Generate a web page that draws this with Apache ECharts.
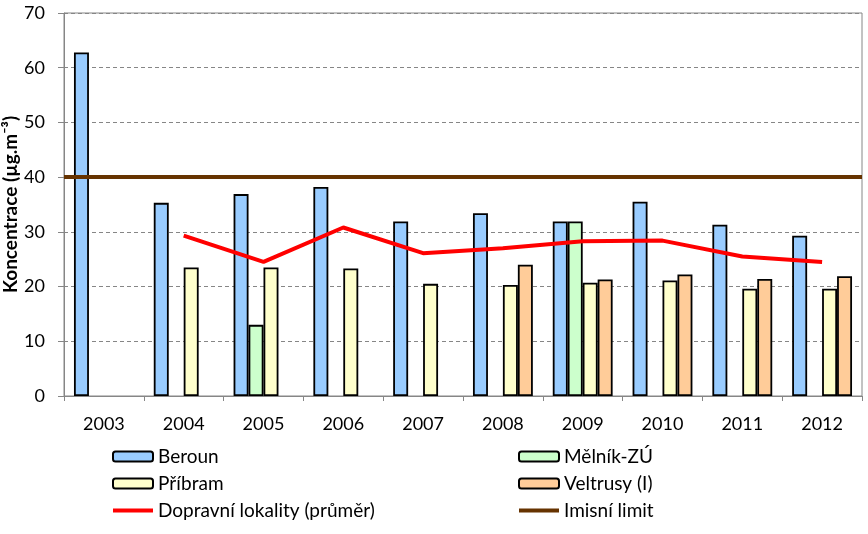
<!DOCTYPE html>
<html><head><meta charset="utf-8">
<script src="https://cdn.jsdelivr.net/npm/echarts@6/dist/echarts.min.js"></script>
<style>html,body{margin:0;padding:0;background:#fff}#c{width:868px;height:534px}</style>
</head><body><div id="c"></div>
<script>
const years = ['2003','2004','2005','2006','2007','2008','2009','2010','2011','2012'];
const beroun   = [62.8, 35.3, 36.9, 38.2, 31.9, 33.4, 31.9, 35.5, 31.3, 29.3];
const melnik   = [null, null, 13.0, null, null, null, 31.9, null, null, null];
const pribram  = [null, 23.5, 23.5, 23.3, 20.5, 20.3, 20.7, 21.1, 19.6, 19.6];
const veltrusy = [null, null, null, null, null, 24.0, 21.3, 22.2, 21.4, 21.9];
const doprava  = [null, 29.3, 24.5, 30.8, 26.1, 27.0, 28.3, 28.4, 25.5, 24.5];
const limit = 40;
const yTicks = {min: 0, max: 70, interval: 10};

const FONT = 'Lato, "Open Sans", sans-serif';
const LINE_ICON = 'path://M0,0 L40,0 L40,4 L0,4 Z';
const chart = echarts.init(document.getElementById('c'));
const barStyle = c => ({color: c, borderColor: '#000', borderWidth: 1.8});
const legendCommon = {orient: 'vertical', padding: 0, itemGap: 8, itemWidth: 40, itemHeight: 10,
  textStyle: {fontSize: 19, color: '#000', fontFamily: FONT},
  itemStyle: {borderWidth: 2}};
chart.setOption({
  animation: false,
  textStyle: {fontFamily: FONT},
  grid: {left: 64, right: 6, top: 13, bottom: 138, show: true, borderColor: '#868686', borderWidth: 1,
         backgroundColor: 'transparent', outerBoundsMode: 'none', containLabel: false},
  xAxis: {
    type: 'category', data: years,
    axisLine: {lineStyle: {color: '#868686', width: 1}},
    axisTick: {show: true, length: 5, lineStyle: {color: '#868686'}},
    axisLabel: {color: '#000', fontSize: 18, margin: 19, fontFamily: FONT}
  },
  yAxis: {
    type: 'value', min: yTicks.min, max: yTicks.max, interval: yTicks.interval,
    name: 'Koncentrace (µg.m⁻³)', nameLocation: 'middle', nameGap: 44, nameRotate: 90,
    nameMoveOverlap: false,
    nameTextStyle: {color: '#000', fontSize: 19, fontWeight: 'bold', fontFamily: FONT},
    axisLine: {show: true, lineStyle: {color: '#868686', width: 1}},
    axisTick: {show: true, length: 6, lineStyle: {color: '#868686'}},
    axisLabel: {color: '#000', fontSize: 18, margin: 19, fontFamily: FONT},
    splitLine: {lineStyle: {color: '#868686', type: [4, 3], width: 1}}
  },
  legend: [
    Object.assign({left: 112, top: 447,
     data: ['Beroun', 'Příbram', {name: 'Dopravní lokality (průměr)', icon: LINE_ICON}]}, legendCommon),
    Object.assign({left: 518, top: 447,
     data: ['Mělník-ZÚ', 'Veltrusy (I)', {name: 'Imisní limit', icon: LINE_ICON}]}, legendCommon)
  ],
  series: [
    {name: 'Beroun', type: 'bar', data: beroun, barGap: '0%', barCategoryGap: '25%', itemStyle: barStyle('#99CCFF')},
    {name: 'Mělník-ZÚ', type: 'bar', data: melnik, itemStyle: barStyle('#CCFFCC')},
    {name: 'Příbram', type: 'bar', data: pribram, itemStyle: barStyle('#FFFFCC')},
    {name: 'Veltrusy (I)', type: 'bar', data: veltrusy, itemStyle: barStyle('#FFCC99')},
    {name: 'Dopravní lokality (průměr)', type: 'line', data: doprava, symbol: 'none', z: 5,
     lineStyle: {color: '#FF0000', width: 4}, itemStyle: {color: '#FF0000', borderWidth: 0}},
    {name: 'Imisní limit', type: 'line', data: [], symbol: 'none', z: 6,
     lineStyle: {color: '#663300', width: 4}, itemStyle: {color: '#663300', borderWidth: 0},
     markLine: {silent: true, symbol: 'none', label: {show: false},
       lineStyle: {color: '#663300', width: 4, type: 'solid'}, data: [{yAxis: limit}]}}
  ]
});
</script></body></html>
